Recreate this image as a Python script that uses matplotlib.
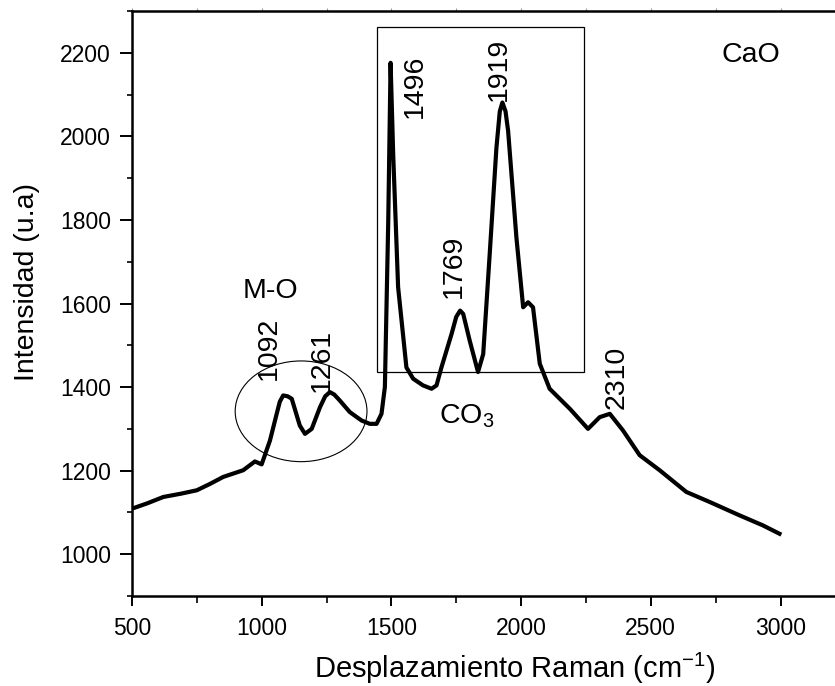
import matplotlib
matplotlib.use("Agg")
import matplotlib.pyplot as plt
from matplotlib.patches import Rectangle, Ellipse
from matplotlib.ticker import MultipleLocator, FuncFormatter

plt.rcParams['font.family'] = ['Liberation Sans', 'DejaVu Sans']
plt.rcParams['mathtext.fontset'] = 'custom'
plt.rcParams['mathtext.rm'] = 'Liberation Sans'
plt.rcParams['mathtext.it'] = 'Liberation Sans'

# Raman spectrum of CaO
shift = [500, 560, 621, 690, 750, 800, 852, 929, 974, 1000, 1032, 1058, 1070, 1083, 1100, 1116,
         1147, 1167, 1193, 1225, 1245, 1263, 1280, 1301, 1340, 1385, 1417, 1443,
         1462, 1475, 1488, 1497, 1507, 1526, 1558, 1584, 1622, 1655, 1674, 1693,
         1732, 1750, 1765, 1777, 1802, 1834, 1854, 1879, 1905, 1918, 1928, 1940,
         1950, 1982, 2008, 2027, 2046, 2072, 2110, 2188, 2258, 2303, 2342, 2393,
         2457, 2534, 2637, 2727, 2842, 2932, 2996]
intensity = [1109, 1122, 1137, 1145, 1153, 1168, 1185, 1201, 1222, 1215, 1272, 1336, 1365, 1380, 1378, 1372,
             1308, 1288, 1300, 1352, 1378, 1388, 1382, 1368, 1340, 1320, 1312, 1312,
             1336, 1400, 1798, 2176, 1957, 1639, 1447, 1420, 1404, 1396, 1404, 1447,
             1527, 1568, 1583, 1575, 1511, 1436, 1479, 1718, 1973, 2060, 2081, 2060,
             2013, 1758, 1591, 1603, 1591, 1456, 1396, 1348, 1300, 1328, 1336, 1296,
             1237, 1201, 1149, 1125, 1093, 1069, 1049]

# peak labels: text, x, y
peak_labels = ['1092', '1261', '1496', '1769', '1919', '2310']
peak_x = [1028, 1233, 1592, 1741, 1914, 2369]
peak_y = [1492, 1464, 2119, 1689, 2161, 1423]

fig = plt.figure(figsize=(8.35, 6.86), dpi=100)
ax = fig.add_axes([0.158, 1 - 596 / 686, 0.842, 585 / 686])

ax.plot(shift, intensity, color='black', lw=3.0)

ax.set_xlim(500, 3210)
ax.set_ylim(900, 2300)
ax.xaxis.set_major_locator(MultipleLocator(500))
ax.xaxis.set_minor_locator(MultipleLocator(250))
ax.yaxis.set_major_locator(MultipleLocator(200))
ax.yaxis.set_minor_locator(MultipleLocator(100))
ax.yaxis.set_major_formatter(FuncFormatter(lambda v, p: f"{v:.0f}" if v >= 1000 else ""))

ax.spines['right'].set_visible(False)
for s in ['left', 'bottom', 'top']:
    ax.spines[s].set_linewidth(1.8)
ax.tick_params(axis='y', which='major', direction='out', length=9, width=1.4, pad=6, labelsize=16.5)
ax.tick_params(axis='y', which='minor', direction='out', length=3.5, width=1.2)
ax.tick_params(axis='x', which='major', direction='out', length=7, width=1.4, pad=8, labelsize=16.5)
ax.tick_params(axis='x', which='minor', direction='out', length=5, width=1.2)

# faint ticks on the top spine
top = ax.secondary_xaxis('top')
top.xaxis.set_major_locator(MultipleLocator(250))
top.tick_params(direction='out', length=2, width=0.8, colors='0.6', labeltop=False)
top.spines['top'].set_visible(False)

ax.set_xlabel(r'Desplazamiento Raman (cm$^{\mathregular{-1}}$)', fontsize=21)
ax.xaxis.set_label_coords(0.545, -0.094)
ax.set_ylabel('Intensidad (u.a)', fontsize=20.5)
ax.yaxis.set_label_coords(-0.131, 0.537)

# boxes around the M-O and CO3 regions
ax.add_patch(Rectangle((1443, 1436), 800, 826, fill=False, lw=0.9, ec='black'))
ax.add_patch(Ellipse((1152, 1342), 508, 241, fill=False, lw=0.8, ec='black'))

for t, px, py in zip(peak_labels, peak_x, peak_y):
    ax.text(px, py, t, rotation=90, ha='center', va='center', fontsize=20.5)

ax.text(1032, 1631, 'M-O', ha='center', va='center', fontsize=20.5)
ax.text(1790, 1330, r'CO$_3$', ha='center', va='center', fontsize=20.5)
ax.text(2885, 2195, 'CaO', ha='center', va='center', fontsize=20.5)

fig.savefig('out.png', dpi=100)
